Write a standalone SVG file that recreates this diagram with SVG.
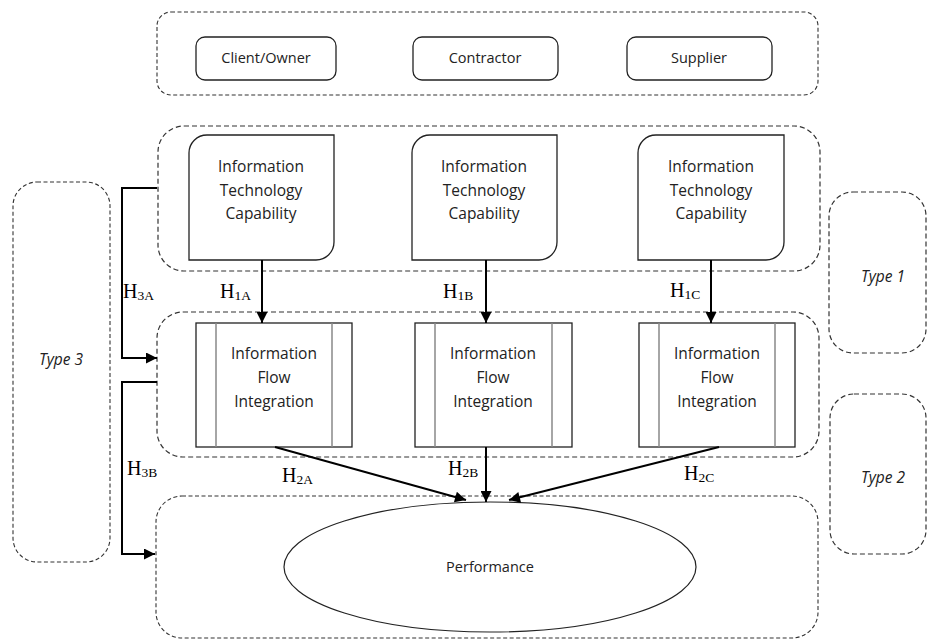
<svg xmlns="http://www.w3.org/2000/svg" width="928" height="641" viewBox="0 0 928 641">
<defs>
<marker id="ah" viewBox="0 0 10 10" refX="10" refY="5" markerWidth="6" markerHeight="5.5" markerUnits="strokeWidth" orient="auto">
<path d="M0,0 L10,5 L0,10 Z" fill="#000"/>
</marker>
<style>
.dash{fill:none;stroke:#333;stroke-width:1.2;stroke-dasharray:5 3}
.dash2{fill:none;stroke:#333;stroke-width:1.1;stroke-dasharray:4 2.5}
.box{fill:#fff;stroke:#222;stroke-width:1.3}
.inner{stroke:#888;stroke-width:1.5}
.t{font-family:"Open Sans","Liberation Sans",sans-serif;font-size:15.5px;fill:#222;text-anchor:middle}
.t2{font-family:"Open Sans","Liberation Sans",sans-serif;font-size:14.5px;fill:#222;text-anchor:middle}
.ty{font-family:"Open Sans","Liberation Sans",sans-serif;font-size:15.5px;font-style:italic;fill:#222;text-anchor:middle}
.h{font-family:"Liberation Serif","Times New Roman",serif;font-size:20px;fill:#000}
.s{font-size:13.5px}
.c{fill:none;stroke:#000;stroke-width:2}
</style>
</defs>
<rect width="928" height="641" fill="#fff"/>

<g id="groups">
<rect class="dash2" x="157" y="12" width="661" height="83" rx="14"/>
<rect class="dash" x="158" y="126" width="662" height="145" rx="26"/>
<rect class="dash" x="157" y="312" width="662" height="145" rx="26"/>
<rect class="dash2" x="156" y="496" width="662" height="142" rx="26"/>
</g>
<g id="type1"><rect class="dash" x="829" y="192" width="97" height="161" rx="24"/><text class="ty" x="883" y="282">Type 1</text></g>
<g id="type2"><rect class="dash" x="830" y="394" width="96" height="160" rx="24"/><text class="ty" x="883" y="483">Type 2</text></g>
<g id="type3"><rect class="dash2" x="13" y="182" width="97" height="380" rx="24"/><text class="ty" x="61" y="365">Type 3</text></g>

<g id="client"><rect class="box" x="196" y="37" width="140" height="43" rx="9"/><text class="t2" x="266" y="63">Client/Owner</text></g>
<g id="contractor"><rect class="box" x="413" y="37" width="145" height="43" rx="9"/><text class="t2" x="485" y="63">Contractor</text></g>
<g id="supplier"><rect class="box" x="627" y="37" width="145" height="43" rx="9"/><text class="t2" x="699" y="63">Supplier</text></g>

<g id="itcA"><path class="box" d="M189,153 A18,18 0 0 1 207,135 L334,135 L334,242 A18,18 0 0 1 316,260 L189,260 Z"/>
<text class="t"><tspan x="261" y="172">Information</tspan><tspan x="261" y="195.5">Technology</tspan><tspan x="261" y="219">Capability</tspan></text></g>
<g id="itcB"><path class="box" d="M412,153 A18,18 0 0 1 430,135 L557,135 L557,242 A18,18 0 0 1 539,260 L412,260 Z"/>
<text class="t"><tspan x="484" y="172">Information</tspan><tspan x="484" y="195.5">Technology</tspan><tspan x="484" y="219">Capability</tspan></text></g>
<g id="itcC"><path class="box" d="M638,153 A18,18 0 0 1 656,135 L784,135 L784,242 A18,18 0 0 1 766,260 L638,260 Z"/>
<text class="t"><tspan x="711" y="172">Information</tspan><tspan x="711" y="195.5">Technology</tspan><tspan x="711" y="219">Capability</tspan></text></g>

<g id="ifiA"><rect class="box" x="196" y="323" width="156" height="124"/><line class="inner" x1="216" y1="323" x2="216" y2="447"/><line class="inner" x1="332" y1="323" x2="332" y2="447"/>
<text class="t"><tspan x="274" y="359">Information</tspan><tspan x="274" y="383">Flow</tspan><tspan x="274" y="407">Integration</tspan></text></g>
<g id="ifiB"><rect class="box" x="415" y="323" width="157" height="124"/><line class="inner" x1="435" y1="323" x2="435" y2="447"/><line class="inner" x1="552" y1="323" x2="552" y2="447"/>
<text class="t"><tspan x="493" y="359">Information</tspan><tspan x="493" y="383">Flow</tspan><tspan x="493" y="407">Integration</tspan></text></g>
<g id="ifiC"><rect class="box" x="639" y="323" width="156" height="124"/><line class="inner" x1="659" y1="323" x2="659" y2="447"/><line class="inner" x1="775" y1="323" x2="775" y2="447"/>
<text class="t"><tspan x="717" y="359">Information</tspan><tspan x="717" y="383">Flow</tspan><tspan x="717" y="407">Integration</tspan></text></g>

<g id="performance"><ellipse cx="490" cy="567" rx="206" ry="65" fill="#fff" stroke="#222" stroke-width="1.2"/><text class="t2" x="490" y="572">Performance</text></g>

<g id="connectors">
<polyline class="c" points="157,188 122,188 122,358 157,358" marker-end="url(#ah)"/>
<polyline class="c" points="157,382 122,382 122,554 155,554" marker-end="url(#ah)"/>
<line class="c" x1="262" y1="260" x2="262" y2="323" marker-end="url(#ah)"/>
<line class="c" x1="486" y1="260" x2="486" y2="323" marker-end="url(#ah)"/>
<line class="c" x1="711" y1="260" x2="711" y2="323" marker-end="url(#ah)"/>
<line class="c" x1="275" y1="447" x2="466" y2="500" marker-end="url(#ah)"/>
<line class="c" x1="486" y1="447" x2="486" y2="502" marker-end="url(#ah)"/>
<line class="c" x1="719" y1="447" x2="509" y2="500" marker-end="url(#ah)"/>
</g>

<g id="labels">
<text class="h" x="123" y="298">H<tspan class="s" dy="2">3A</tspan></text>
<text class="h" x="220" y="298">H<tspan class="s" dy="2">1A</tspan></text>
<text class="h" x="443" y="298">H<tspan class="s" dy="2">1B</tspan></text>
<text class="h" x="670" y="297">H<tspan class="s" dy="2">1C</tspan></text>
<text class="h" x="127" y="475">H<tspan class="s" dy="2">3B</tspan></text>
<text class="h" x="282" y="482">H<tspan class="s" dy="2">2A</tspan></text>
<text class="h" x="448" y="475">H<tspan class="s" dy="2">2B</tspan></text>
<text class="h" x="684" y="480">H<tspan class="s" dy="2">2C</tspan></text>
</g>
</svg>
